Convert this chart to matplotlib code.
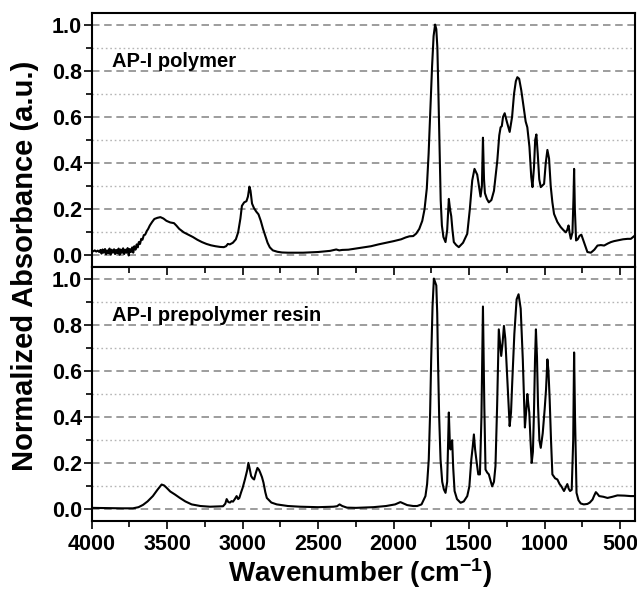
import matplotlib
matplotlib.use("Agg")
import matplotlib.pyplot as plt
from matplotlib.ticker import MultipleLocator

plt.rcParams['font.family'] = ['Liberation Sans', 'DejaVu Sans']
plt.rcParams['font.weight'] = 'bold'
plt.rcParams['mathtext.fontset'] = 'custom'
plt.rcParams['mathtext.rm'] = 'Liberation Sans:bold'
plt.rcParams['mathtext.it'] = 'Liberation Sans:bold'
plt.rcParams['mathtext.bf'] = 'Liberation Sans:bold'
plt.rcParams['mathtext.default'] = 'rm'

# AP-I polymer (panel superior)
wn_polimero = [
    4000, 3990, 3980, 3970, 3960, 3950, 3942, 3935, 3928, 3920, 3912, 3905, 3898, 3890,
    3882, 3875, 3868, 3860, 3852, 3845, 3838, 3830, 3822, 3815, 3808, 3800, 3792, 3785,
    3778, 3770, 3762, 3755, 3748, 3740, 3732, 3725, 3718, 3710, 3702, 3695, 3688, 3680,
    3672, 3664, 3655, 3646, 3636, 3626, 3615, 3600, 3585, 3565, 3545, 3525, 3505, 3480,
    3455, 3440, 3420, 3390, 3360, 3330, 3300, 3270, 3240, 3210, 3180, 3150, 3125, 3110,
    3098, 3085, 3065, 3045, 3030, 3015, 3005, 2990, 2975, 2965, 2955, 2948, 2938, 2925,
    2910, 2895, 2880, 2865, 2850, 2835, 2820, 2800, 2770, 2740, 2700, 2600, 2500, 2420,
    2380, 2360, 2340, 2300, 2250, 2200, 2150, 2100, 2050, 2000, 1950, 1920, 1895, 1870,
    1850, 1830, 1810, 1795, 1780, 1768, 1755, 1745, 1735, 1725, 1717, 1710, 1703, 1695,
    1688, 1680, 1670, 1656, 1645, 1634, 1626, 1618, 1610, 1601, 1585, 1568, 1540, 1512,
    1495, 1479, 1464, 1446, 1432, 1424, 1415, 1408, 1401, 1395, 1382, 1369, 1352, 1335,
    1313, 1300, 1291, 1283, 1275, 1264, 1250, 1231, 1215, 1202, 1190, 1180, 1168, 1154,
    1140, 1125, 1114, 1100, 1088, 1080, 1070, 1062, 1054, 1045, 1035, 1025, 1003, 992,
    981, 970, 959, 948, 937, 915, 893, 875, 859, 850, 841, 833, 826, 815, 808, 804, 799,
    791, 780, 768, 756, 740, 716, 693, 670, 649, 627, 605, 580, 560, 540, 517, 480, 450,
    428, 400]
abs_polimero = [
    0.020, 0.018, 0.022, 0.017, 0.021, 0.015, 0.024, 0.008, 0.026, 0.012, 0.028, 0.005, 0.022, 0.010,
    0.030, 0.004, 0.025, 0.012, 0.027, 0.006, 0.024, 0.010, 0.030, 0.003, 0.026, 0.011, 0.031, 0.006,
    0.025, 0.012, 0.032, 0.000, 0.028, 0.015, 0.035, 0.012, 0.040, 0.025, 0.048, 0.035, 0.058, 0.050,
    0.072, 0.068, 0.088, 0.090, 0.105, 0.115, 0.130, 0.145, 0.158, 0.163, 0.166, 0.160, 0.150, 0.143,
    0.140, 0.130, 0.115, 0.100, 0.090, 0.080, 0.068, 0.058, 0.050, 0.044, 0.040, 0.037, 0.036, 0.040,
    0.050, 0.048, 0.055, 0.070, 0.100, 0.160, 0.215, 0.230, 0.235, 0.255, 0.298, 0.280, 0.225, 0.205,
    0.190, 0.178, 0.150, 0.115, 0.085, 0.055, 0.035, 0.022, 0.016, 0.013, 0.012, 0.012, 0.015, 0.020,
    0.026, 0.022, 0.024, 0.025, 0.030, 0.035, 0.040, 0.048, 0.055, 0.062, 0.070, 0.078, 0.083, 0.084,
    0.095, 0.115, 0.150, 0.200, 0.290, 0.440, 0.650, 0.820, 0.950, 1.000, 0.980, 0.900, 0.700, 0.450,
    0.240, 0.130, 0.080, 0.058, 0.110, 0.245, 0.200, 0.170, 0.110, 0.058, 0.045, 0.036, 0.055, 0.094,
    0.200, 0.325, 0.375, 0.350, 0.290, 0.255, 0.300, 0.510, 0.330, 0.270, 0.245, 0.230, 0.240, 0.280,
    0.410, 0.520, 0.555, 0.560, 0.600, 0.616, 0.580, 0.535, 0.600, 0.700, 0.755, 0.772, 0.765, 0.715,
    0.650, 0.580, 0.555, 0.470, 0.340, 0.296, 0.380, 0.500, 0.524, 0.440, 0.330, 0.296, 0.310, 0.400,
    0.457, 0.420, 0.300, 0.230, 0.180, 0.145, 0.123, 0.110, 0.100, 0.110, 0.130, 0.095, 0.072, 0.100,
    0.250, 0.375, 0.200, 0.065, 0.070, 0.085, 0.090, 0.060, 0.015, 0.012, 0.025, 0.043, 0.045, 0.043,
    0.052, 0.058, 0.062, 0.065, 0.070, 0.072, 0.072, 0.087]

# AP-I prepolymer resin (panel inferior)
wn_resina = [
    4000, 3900, 3800, 3727, 3690, 3660, 3630, 3595, 3565, 3537, 3520, 3504, 3480, 3449,
    3416, 3380, 3338, 3280, 3216, 3160, 3130, 3115, 3106, 3095, 3084, 3074, 3064, 3052,
    3040, 3030, 3022, 3010, 3000, 2985, 2970, 2962, 2953, 2944, 2934, 2924, 2912, 2902,
    2892, 2884, 2872, 2862, 2850, 2840, 2810, 2774, 2700, 2619, 2500, 2400, 2375, 2358,
    2340, 2309, 2250, 2134, 2050, 1990, 1955, 1930, 1910, 1870, 1844, 1815, 1789, 1778,
    1767, 1758, 1751, 1742, 1733, 1725, 1717, 1711, 1706, 1698, 1689, 1678, 1667, 1656,
    1645, 1634, 1628, 1623, 1617, 1612, 1605, 1596, 1580, 1556, 1535, 1512, 1498, 1485,
    1476, 1468, 1460, 1452, 1439, 1428, 1418, 1408, 1399, 1391, 1380, 1369, 1347, 1335,
    1325, 1314, 1303, 1295, 1287, 1278, 1269, 1260, 1251, 1240, 1231, 1222, 1214, 1200,
    1185, 1172, 1158, 1144, 1130, 1121, 1114, 1108, 1101, 1093, 1085, 1077, 1070, 1063,
    1057, 1050, 1043, 1034, 1025, 1012, 999, 990, 981, 974, 966, 957, 948, 930, 915,
    900, 888, 880, 871, 860, 849, 840, 831, 820, 810, 804, 798, 788, 775, 760, 740, 716,
    700, 682, 671, 660, 650, 638, 610, 583, 550, 517, 470, 430, 400]
abs_resina = [
    0.007, 0.006, 0.005, 0.005, 0.010, 0.020, 0.035, 0.058, 0.085, 0.108, 0.104, 0.094, 0.078, 0.065,
    0.050, 0.035, 0.022, 0.015, 0.012, 0.013, 0.014, 0.025, 0.045, 0.032, 0.030, 0.036, 0.034, 0.045,
    0.058, 0.045, 0.050, 0.075, 0.094, 0.130, 0.170, 0.202, 0.175, 0.145, 0.135, 0.130, 0.160, 0.180,
    0.172, 0.160, 0.140, 0.116, 0.075, 0.050, 0.030, 0.022, 0.015, 0.012, 0.010, 0.012, 0.014, 0.022,
    0.015, 0.008, 0.007, 0.010, 0.015, 0.022, 0.032, 0.025, 0.019, 0.015, 0.015, 0.022, 0.058, 0.110,
    0.217, 0.420, 0.650, 0.880, 1.000, 0.985, 0.970, 0.850, 0.650, 0.400, 0.217, 0.120, 0.087, 0.072,
    0.120, 0.420, 0.300, 0.260, 0.290, 0.300, 0.180, 0.080, 0.045, 0.029, 0.035, 0.058, 0.100, 0.217,
    0.270, 0.325, 0.260, 0.217, 0.152, 0.152, 0.400, 0.879, 0.450, 0.173, 0.160, 0.152, 0.100, 0.120,
    0.188, 0.450, 0.780, 0.720, 0.665, 0.720, 0.795, 0.740, 0.620, 0.480, 0.361, 0.420, 0.550, 0.760,
    0.910, 0.932, 0.870, 0.650, 0.355, 0.430, 0.500, 0.460, 0.420, 0.300, 0.202, 0.250, 0.420, 0.650,
    0.780, 0.660, 0.450, 0.300, 0.267, 0.330, 0.435, 0.520, 0.650, 0.600, 0.477, 0.300, 0.152, 0.135,
    0.130, 0.110, 0.100, 0.090, 0.080, 0.095, 0.110, 0.090, 0.080, 0.085, 0.300, 0.680, 0.400, 0.072,
    0.040, 0.026, 0.022, 0.024, 0.030, 0.043, 0.060, 0.075, 0.068, 0.058, 0.055, 0.050, 0.055, 0.061,
    0.060, 0.058, 0.058]

paneles = [(wn_polimero, abs_polimero, 'AP-I polymer'),
           (wn_resina, abs_resina, 'AP-I prepolymer resin')]

fig = plt.figure(figsize=(6.37, 5.91), dpi=100)
ax_sup = fig.add_axes([0.144, 0.5482, 0.853, 0.4298])
ax_inf = fig.add_axes([0.144, 0.1184, 0.853, 0.4298])

for ax, (wn, ab, nombre) in zip([ax_sup, ax_inf], paneles):
    ax.plot(wn, ab, color='black', lw=1.5, zorder=3)
    ax.set_xlim(4000, 400)
    ax.set_ylim(-0.05, 1.05)
    ax.yaxis.set_major_locator(MultipleLocator(0.2))
    ax.yaxis.set_minor_locator(MultipleLocator(0.1))
    ax.xaxis.set_major_locator(MultipleLocator(500))
    ax.xaxis.set_minor_locator(MultipleLocator(250))
    ax.grid(True, which='major', axis='y', color='#8c8c8c', lw=1.2, linestyle=(0, (4.5, 2.8)))
    ax.grid(True, which='minor', axis='y', color='#b5b5b5', lw=1.0, linestyle=(0, (1.2, 2.0)))
    ax.set_axisbelow(True)
    ax.tick_params(axis='y', which='major', direction='out', length=6, width=1.2,
                   labelsize=15.5, pad=1)
    ax.tick_params(axis='y', which='minor', direction='out', length=4, width=1.2)
    for s in ax.spines.values():
        s.set_linewidth(1.5)
    ax.text(3865, 0.84, nombre, fontsize=14.5, fontweight='bold', va='center', ha='left')

ax_sup.tick_params(axis='x', which='both', bottom=False, labelbottom=False)
ax_inf.tick_params(axis='x', which='major', direction='out', length=6, width=1.2,
                   labelsize=15.5, pad=3, top=True)
ax_inf.tick_params(axis='x', which='minor', direction='out', length=4, width=1.2, top=True)
for t in ax_inf.xaxis.get_ticklines(minor=False)[1::2]:
    t.set_marker(3)
for t in ax_inf.xaxis.get_ticklines(minor=True)[1::2]:
    t.set_marker(3)

for etiqueta in ax_sup.get_yticklabels() + ax_inf.get_yticklabels() + ax_inf.get_xticklabels():
    etiqueta.set_fontweight('bold')

fig.text(0.039, 0.55, 'Normalized Absorbance (a.u.)', rotation=90, fontsize=21,
         fontweight='bold', ha='center', va='center')
fig.text(0.565, 0.03, 'Wavenumber (cm$^{-1}$)', fontsize=20, fontweight='bold',
         ha='center', va='center')

fig.savefig('out.png', dpi=100)
